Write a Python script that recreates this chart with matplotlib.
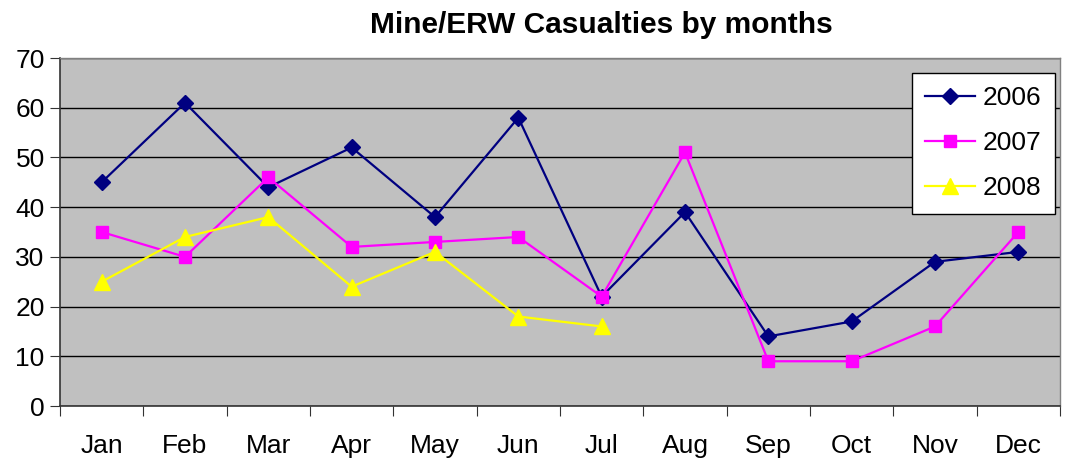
import matplotlib
matplotlib.use("Agg")
import matplotlib.pyplot as plt
import numpy as np

months = ["Jan", "Feb", "Mar", "Apr", "May", "Jun", "Jul", "Aug", "Sep", "Oct", "Nov", "Dec"]
s2006 = [45, 61, 44, 52, 38, 58, 22, 39, 14, 17, 29, 31]
s2007 = [35, 30, 46, 32, 33, 34, 22, 51, 9, 9, 16, 35]
s2008 = [25, 34, 38, 24, 31, 18, 16]
yticks = [0, 10, 20, 30, 40, 50, 60, 70]

plt.rcParams['font.family'] = ['Liberation Sans', 'DejaVu Sans']

fig = plt.figure(figsize=(10.73, 4.62), dpi=100)
ax = fig.add_axes([60/1073, 1-406/462, 1000/1073, 348/462])
ax.set_facecolor('#C0C0C0')

x = np.arange(len(months))
ax.plot(x, s2006, color='#000080', marker='D', markersize=8.5, lw=1.6, label='2006')
ax.plot(x, s2007, color='#FF00FF', marker='s', markersize=9, lw=1.6, label='2007')
ax.plot(x[:len(s2008)], s2008, color='#FFFF00', marker='^', markersize=11, lw=1.6, label='2008')

ax.set_xlim(-0.5, 11.5)
ax.set_ylim(0, 70)
ax.set_yticks(yticks)
ax.set_yticklabels([str(v) for v in yticks], fontsize=19)
ax.yaxis.grid(True, color='black', lw=1)
ax.set_axisbelow(True)

ax.set_xticks(np.arange(-0.5, 12, 1))
ax.set_xticklabels([])
ax.set_xticks(x, minor=True)
ax.set_xticklabels(months, minor=True, fontsize=19)
ax.tick_params(axis='x', which='minor', length=0, pad=20)
ax.tick_params(axis='x', which='major', length=7, color='#333333')
ax.tick_params(axis='y', length=7, color='#333333', pad=4)

for side in ['top', 'right']:
    ax.spines[side].set_color('#808080')
    ax.spines[side].set_linewidth(1)
for side in ['left', 'bottom']:
    ax.spines[side].set_color('#333333')
    ax.spines[side].set_linewidth(1.2)

fig.text(601/1073, 1-25/462, 'Mine/ERW Casualties by months', ha='center', va='center',
         fontsize=21.5, fontweight='bold')

leg = ax.legend(loc='upper right', bbox_to_anchor=(1055/1073, 1-73/462), bbox_transform=fig.transFigure,
                fontsize=19, frameon=True, fancybox=False, framealpha=1, edgecolor='black',
                borderpad=0.5, labelspacing=0.8, handlelength=1.9, handletextpad=0.3, borderaxespad=0)
leg.get_frame().set_linewidth(1)

fig.savefig('out.png', dpi=100)
